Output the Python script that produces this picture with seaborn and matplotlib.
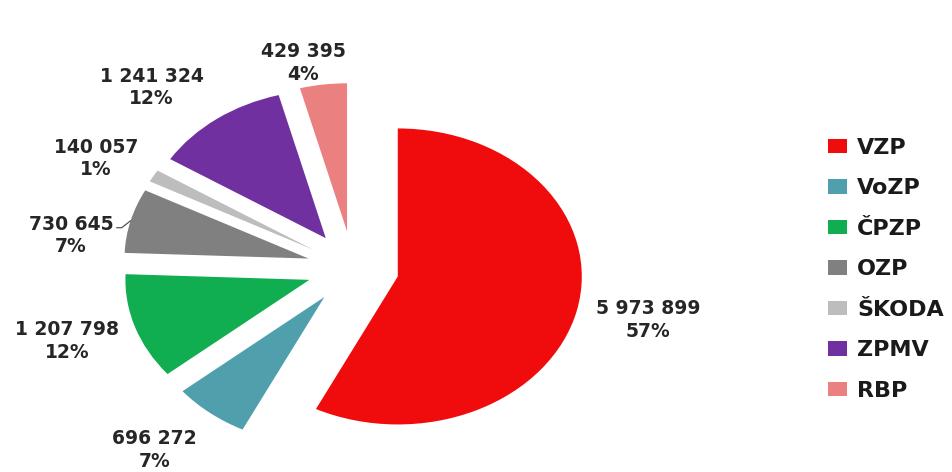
import numpy as np
import matplotlib
matplotlib.use("Agg")
import matplotlib.pyplot as plt
import seaborn as sns

# ---- data ----
categories = ["VZP", "VoZP", "ČPZP", "OZP", "ŠKODA", "ZPMV", "RBP"]
values = [5973899, 696272, 1207798, 730645, 140057, 1241324, 429395]
colors = ["#f00c0c", "#4f9fad", "#10ae50", "#808080", "#bdbdbd", "#7030a0", "#ea8080"]

# ---- styling / layout ----
explode = [0.25] * len(values)
label_dist = [1.39, 1.385, 1.38, 1.30, 1.33, 1.39, 1.16]
label_nudge = [1.0, -3.3, -1.2, 7.9, 2.3, 6.6, 4.5]  # degrees
leader_for = "OZP"

sns.set_theme(style="white")
plt.rcParams["font.family"] = ["DejaVu Sans"]

W, H = 953, 472
fig = plt.figure(figsize=(W / 100, H / 100), dpi=100)
ax = fig.add_axes([0, 0, 1, 1])

wedges, _ = ax.pie(values, colors=colors, explode=explode, startangle=90,
                   counterclock=False, radius=1.0,
                   wedgeprops=dict(linewidth=0))

ax.set_aspect("auto")
# pie centre at (353, 268) px, x-radius 184 px, y-radius 148 px
cx, cy, rx, ry = 353, 268, 184, 148
ax.set_xlim(-cx / rx, (W - cx) / rx)
ax.set_ylim(-(H - cy) / ry, cy / ry)
ax.axis("off")

total = sum(values)


def fmt(v):
    return f"{v:,}".replace(",", " ")


for w, name, v, ld, nd in zip(wedges, categories, values, label_dist, label_nudge):
    mid_deg = (w.theta1 + w.theta2) / 2
    mid = np.deg2rad(mid_deg + nd)
    x0, y0 = w.center
    ax.text(x0 + ld * np.cos(mid), y0 + ld * np.sin(mid),
            f"{fmt(v)}\n{round(100 * v / total)}%",
            ha="center", va="center", fontsize=13.5, fontweight="bold",
            color="#262626", linespacing=1.25)
    if name == leader_for:
        m = np.deg2rad(mid_deg)
        ex, ey = x0 + np.cos(m), y0 + np.sin(m)
        kx, ky = ex - 9 / rx, ey - 7 / ry
        sx, sy = kx - 5 / rx, ky
        ax.plot([sx, kx, ex], [sy, ky, ey], color="#555555", lw=0.9)

leg = ax.legend(wedges, categories, loc="upper left",
                bbox_to_anchor=(828 / W, 1 - 138 / H), bbox_transform=fig.transFigure,
                frameon=False, fontsize=16, handlelength=0.86, handleheight=0.63,
                handletextpad=0.45, labelspacing=0.92, borderpad=0, borderaxespad=0)
for t in leg.get_texts():
    t.set_fontweight("bold")
    t.set_color("#1a1a1a")

fig.savefig("out.png", dpi=100)
